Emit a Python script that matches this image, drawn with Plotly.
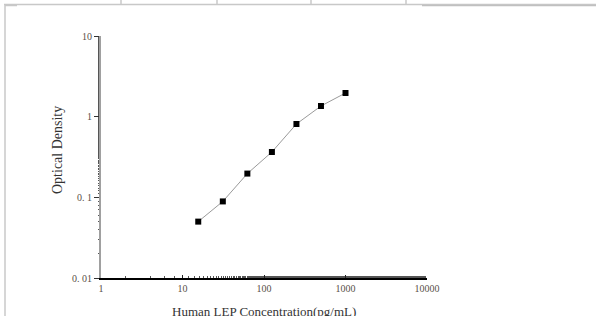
import plotly.graph_objects as go

# Data
concentration = [15.6, 31.25, 62.5, 125, 250, 500, 1000]
optical_density = [0.050, 0.089, 0.197, 0.365, 0.811, 1.356, 1.965]

x_tickvals = [1, 10, 100, 1000, 10000]
x_ticktext = ["1", "10", "100", "1000", "10000"]
y_tickvals = [0.01, 0.1, 1, 10]
y_ticktext = ["0. 01", "0. 1", "1", "10"]

W, H = 596, 316
L, R, T, B = 101, 169, 36, 38
PW, PH = W - L - R, H - T - B

def px(x):
    return (x - L) / PW

def py(y):
    return 1 - (y - T) / PH

fig = go.Figure()
fig.add_trace(go.Scatter(
    x=concentration, y=optical_density, mode="lines+markers",
    line=dict(color="#9a9a9a", width=1),
    marker=dict(symbol="square", size=6, color="black"),
    showlegend=False,
))

font_serif = "Liberation Serif, Times New Roman, serif"

fig.update_layout(
    width=W, height=H,
    margin=dict(l=L, r=R, t=T, b=B),
    paper_bgcolor="white", plot_bgcolor="white",
    font=dict(family=font_serif, size=10, color="#5a5048"),
    xaxis=dict(
        type="log", range=[0, 4], showgrid=False, zeroline=False,
        showline=True, linecolor="black", linewidth=1.5,
        tickvals=x_tickvals, ticktext=x_ticktext,
        ticks="inside", ticklen=3, tickcolor="#222",
        minor=dict(ticks="inside", ticklen=2, tickcolor="#555", tickwidth=1, showgrid=False),
        tickfont=dict(family=font_serif, size=10, color="#5a5048"),
    ),
    yaxis=dict(
        type="log", range=[-2, 1], showgrid=False, zeroline=False,
        showline=True, linecolor="#a0a0a0", linewidth=2,
        tickvals=y_tickvals, ticktext=y_ticktext,
        ticks="outside", ticklen=5, tickcolor="#333",
        minor=dict(ticks="outside", ticklen=1, tickcolor="#555", tickwidth=1, showgrid=False),
        tickfont=dict(family=font_serif, size=10, color="#5a5048"),
    ),
    annotations=[
        dict(text="Optical Density", xref="paper", yref="paper",
             x=px(57), y=py(150), xanchor="center", yanchor="middle",
             showarrow=False, textangle=-90,
             font=dict(family=font_serif, size=14, color="#333")),
        dict(text="Human LEP Concentration(pg/mL)", xref="paper", yref="paper",
             x=px(264), y=py(311), xanchor="center", yanchor="middle",
             showarrow=False,
             font=dict(family=font_serif, size=13, color="#333")),
    ],
    shapes=[
        dict(type="line", xref="paper", yref="paper", x0=px(4), x1=px(596), y0=py(4.5), y1=py(4.5),
             line=dict(color="#c8c8c8", width=1.5)),
        dict(type="line", xref="paper", yref="paper", x0=px(5), x1=px(5), y0=py(4), y1=py(316),
             line=dict(color="#c8c8c8", width=1.5)),
        dict(type="line", xref="paper", yref="paper", x0=px(422), x1=px(596), y0=py(5.5), y1=py(5.5),
             line=dict(color="#c0c0c0", width=1.5)),
        dict(type="line", xref="paper", yref="paper", x0=px(5), x1=px(17), y0=py(5.5), y1=py(5.5),
             line=dict(color="#c8c8c8", width=1.5)),
    ] + [
        dict(type="line", xref="paper", yref="paper", x0=px(xv), x1=px(xv), y0=py(0), y1=py(4.5),
             line=dict(color="#c8c8c8", width=1.5))
        for xv in [121, 217, 311, 406]
    ],
)

fig.write_html("out.html", config={"displayModeBar": False},
               post_script="document.body.style.margin='0';")
